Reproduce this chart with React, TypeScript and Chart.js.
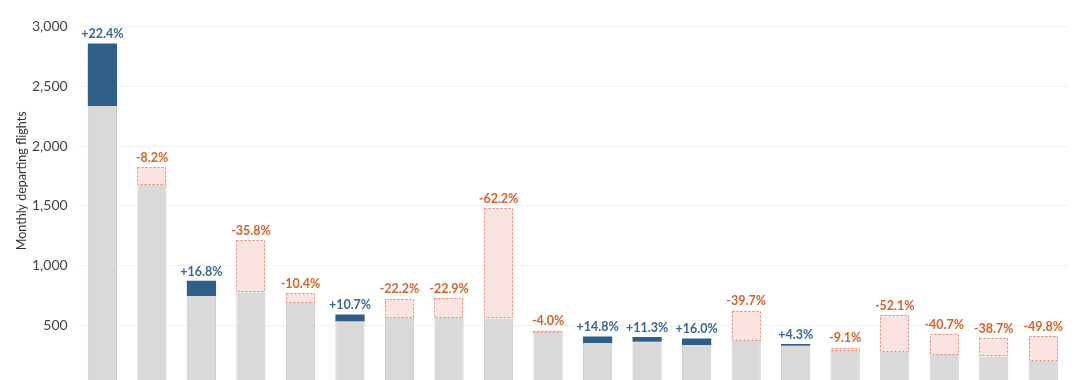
import React, { useEffect, useRef } from "react";
import { Chart, registerables } from "chart.js";

Chart.register(...registerables);

const categories = [
  "1", "2", "3", "4", "5", "6", "7", "8", "9", "10",
  "11", "12", "13", "14", "15", "16", "17", "18", "19", "20",
];
const previousFlights = [
  2335, 1825, 748, 1212, 768, 535, 725, 730, 1480, 458,
  355, 364, 338, 625, 331, 316, 588, 428, 392, 414,
];
const currentFlights = [
  2858, 1675, 874, 778, 688, 592, 564, 563, 559, 440,
  408, 405, 392, 377, 345, 287, 282, 254, 240, 208,
];
const changeLabels = [
  "+22.4%", "-8.2%", "+16.8%", "-35.8%", "-10.4%", "+10.7%", "-22.2%", "-22.9%", "-62.2%", "-4.0%",
  "+14.8%", "+11.3%", "+16.0%", "-39.7%", "+4.3%", "-9.1%", "-52.1%", "-40.7%", "-38.7%", "-49.8%",
];
const yTicks = [0, 500, 1000, 1500, 2000, 2500, 3000];
const yTitle = "Monthly departing flights";

const BLUE = "#2f5f86";
const BLUE_TEXT = "#3a6894";
const ORANGE_TEXT = "#d4622a";
const PINK_FILL = "#f9e4e2";
const PINK_BORDER = "#e4897b";
const GRAY = "#d9d9d9";

export default function App() {
  const ref = useRef<HTMLCanvasElement | null>(null);

  useEffect(() => {
    if (!ref.current) return;
    const base = categories.map((_, i) => [0, Math.min(previousFlights[i], currentFlights[i])]);
    const change = categories.map((_, i) => [
      Math.min(previousFlights[i], currentFlights[i]),
      Math.max(previousFlights[i], currentFlights[i]),
    ]);
    const up = categories.map((_, i) => currentFlights[i] >= previousFlights[i]);

    const overlay = {
      id: "overlay",
      afterDatasetsDraw(chart: any) {
        const ctx = chart.ctx;
        const meta = chart.getDatasetMeta(1);
        meta.data.forEach((el: any, i: number) => {
          const { x, y, base: b, width } = el.getProps(["x", "y", "base", "width"], true);
          const top = Math.min(y, b);
          const bottom = Math.max(y, b);
          if (!up[i]) {
            ctx.save();
            ctx.strokeStyle = PINK_BORDER;
            ctx.lineWidth = 1;
            ctx.setLineDash([2, 2]);
            ctx.strokeRect(Math.round(x - width / 2) + 0.5, Math.round(top) + 0.5, Math.round(width) - 1, Math.round(bottom - top) - 1);
            ctx.restore();
          }
          ctx.save();
          ctx.font = "bold 12.5px Lato";
          ctx.fillStyle = up[i] ? BLUE_TEXT : ORANGE_TEXT;
          ctx.textAlign = "center";
          ctx.textBaseline = "bottom";
          ctx.fillText(changeLabels[i], x, top - 3);
          ctx.restore();
        });
        // y-axis title
        const area = chart.chartArea;
        ctx.save();
        ctx.font = "12.5px Lato";
        ctx.fillStyle = "#333";
        ctx.textAlign = "center";
        ctx.textBaseline = "middle";
        ctx.translate(14, area.top + (area.bottom - area.top) * 0.43);
        ctx.rotate(-Math.PI / 2);
        ctx.fillText(yTitle, 0, 0);
        ctx.restore();
      },
    };

    const chart = new Chart(ref.current, {
      type: "bar",
      data: {
        labels: categories,
        datasets: [
          {
            data: base as any,
            backgroundColor: GRAY,
            borderColor: "#cccccc",
            borderWidth: { left: 1, right: 1, top: 0, bottom: 0 } as any,
            grouped: false,
            barPercentage: 0.59,
            categoryPercentage: 1,
          },
          {
            data: change as any,
            backgroundColor: up.map((u) => (u ? BLUE : PINK_FILL)),
            borderWidth: 0,
            grouped: false,
            barPercentage: 0.59,
            categoryPercentage: 1,
          },
        ],
      },
      options: {
        animation: false,
        responsive: true,
        maintainAspectRatio: false,
        layout: { padding: { top: 10, right: 4, left: 14, bottom: 0 } },
        plugins: { legend: { display: false }, tooltip: { enabled: false } },
        scales: {
          x: {
            grid: { display: false },
            border: { display: true, color: "#bbbbbb" },
            ticks: { font: { family: "Lato", size: 13 }, color: "#444" },
          },
          y: {
            min: 0,
            max: 3000,
            afterBuildTicks: (axis: any) => {
              axis.ticks = yTicks.map((v) => ({ value: v }));
            },
            grid: { color: "#f0f0f0", drawTicks: false },
            border: { display: false },
            ticks: {
              padding: 10,
              font: { family: "Lato", size: 14 },
              color: "#444",
              callback: (v: any) => Number(v).toLocaleString("en-US"),
            },
          },
        },
      },
      plugins: [overlay],
    });
    return () => chart.destroy();
  }, []);

  return (
    <div style={{ width: "100%", height: 407, position: "relative" }}>
      <canvas ref={ref} />
    </div>
  );
}
